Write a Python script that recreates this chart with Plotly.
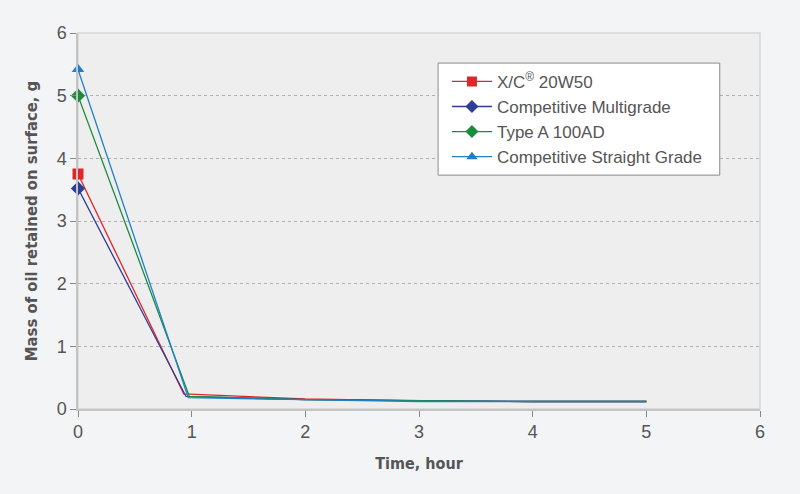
import plotly.graph_objects as go

names = ["X/C<sup>®</sup> 20W50", "Competitive Multigrade", "Type A 100AD", "Competitive Straight Grade"]
colors = ["#e0262b", "#2e3d96", "#1e8a3c", "#1f7fc9"]
symbols = ["square", "diamond", "diamond", "triangle-up"]

time_xc = [0, 0.93, 2, 3, 4, 5]
mass_xc = [3.75, 0.24, 0.16, 0.13, 0.12, 0.12]
time_mg = [0, 0.95, 2, 3, 4, 5]
mass_mg = [3.52, 0.20, 0.15, 0.13, 0.12, 0.12]
time_ta = [0, 0.98, 2, 3, 4, 5]
mass_ta = [5.0, 0.20, 0.15, 0.13, 0.12, 0.12]
time_sg = [0, 0.97, 2, 3, 4, 5]
mass_sg = [5.42, 0.18, 0.15, 0.12, 0.12, 0.12]

series = [(time_xc, mass_xc), (time_mg, mass_mg), (time_ta, mass_ta), (time_sg, mass_sg)]

fig = go.Figure()
for i, ((t, m), n, c, s) in enumerate(zip(series, names, colors, symbols)):
    fig.add_trace(go.Scatter(
        x=t, y=m, mode="lines", showlegend=False,
        line=dict(color=c, width=1.3), cliponaxis=False,
    ))
    fig.add_trace(go.Scatter(
        x=t[:1], y=m[:1], mode="markers", showlegend=False, cliponaxis=False,
        marker=dict(symbol=s, size=11, color=c, line=dict(width=0)),
    ))
    fig.add_trace(go.Scatter(
        x=[None], y=[None], name=n, mode="lines+markers", legendgroup=f"g{i}",
        line=dict(color=c, width=1.3),
        marker=dict(symbol=s, size=10, color=c, line=dict(width=0)),
    ))

# plot frame
fig.add_shape(type="rect", xref="paper", yref="paper", x0=0, y0=0, x1=1, y1=1,
              line=dict(color="#d6d6d6", width=1.5), layer="below")
# legend box
fig.add_shape(type="rect", xref="paper", yref="paper", x0=0.528, y0=0.622, x1=0.941, y1=0.920,
              line=dict(color="#8a8a8a", width=1), fillcolor="#ffffff", layer="above")

title_font = dict(family="DejaVu Sans Condensed, Liberation Sans Narrow, Arial Narrow, sans-serif",
                  size=16, color="#555555", weight="bold")

fig.update_layout(
    width=800, height=494,
    margin=dict(l=78, r=40, t=33, b=85),
    paper_bgcolor="#f3f4f6", plot_bgcolor="#eeeeee",
    font=dict(family="Liberation Sans, Arial, sans-serif", color="#555555"),
    showlegend=True,
    legend=dict(
        x=0.541, y=0.918, xanchor="left", yanchor="top",
        bgcolor="rgba(0,0,0,0)", borderwidth=0,
        font=dict(size=17, color="#555555"),
        tracegroupgap=0, itemwidth=40,
    ),
    xaxis=dict(
        range=[0, 6], dtick=1, showgrid=False, zeroline=False,
        showline=True, linecolor="#c4c4c4", linewidth=1.5,
        ticks="outside", ticklen=6, tickcolor="#888888",
        tickfont=dict(size=18, color="#555555"),
        title=dict(text="Time, hour", standoff=16, font=title_font),
    ),
    yaxis=dict(
        range=[0, 6], dtick=1, showgrid=True, gridcolor="#b0b0b0", griddash="dot", gridwidth=1,
        zeroline=False,
        showline=True, linecolor="#c4c4c4", linewidth=1.5,
        ticks="outside", ticklen=6, tickcolor="#888888",
        tickfont=dict(size=18, color="#555555"),
        title=dict(text="Mass of oil retained on surface, g", standoff=15,
                   font=dict(title_font, size=16.5)),
    ),
)

fig.write_html("out.html")
